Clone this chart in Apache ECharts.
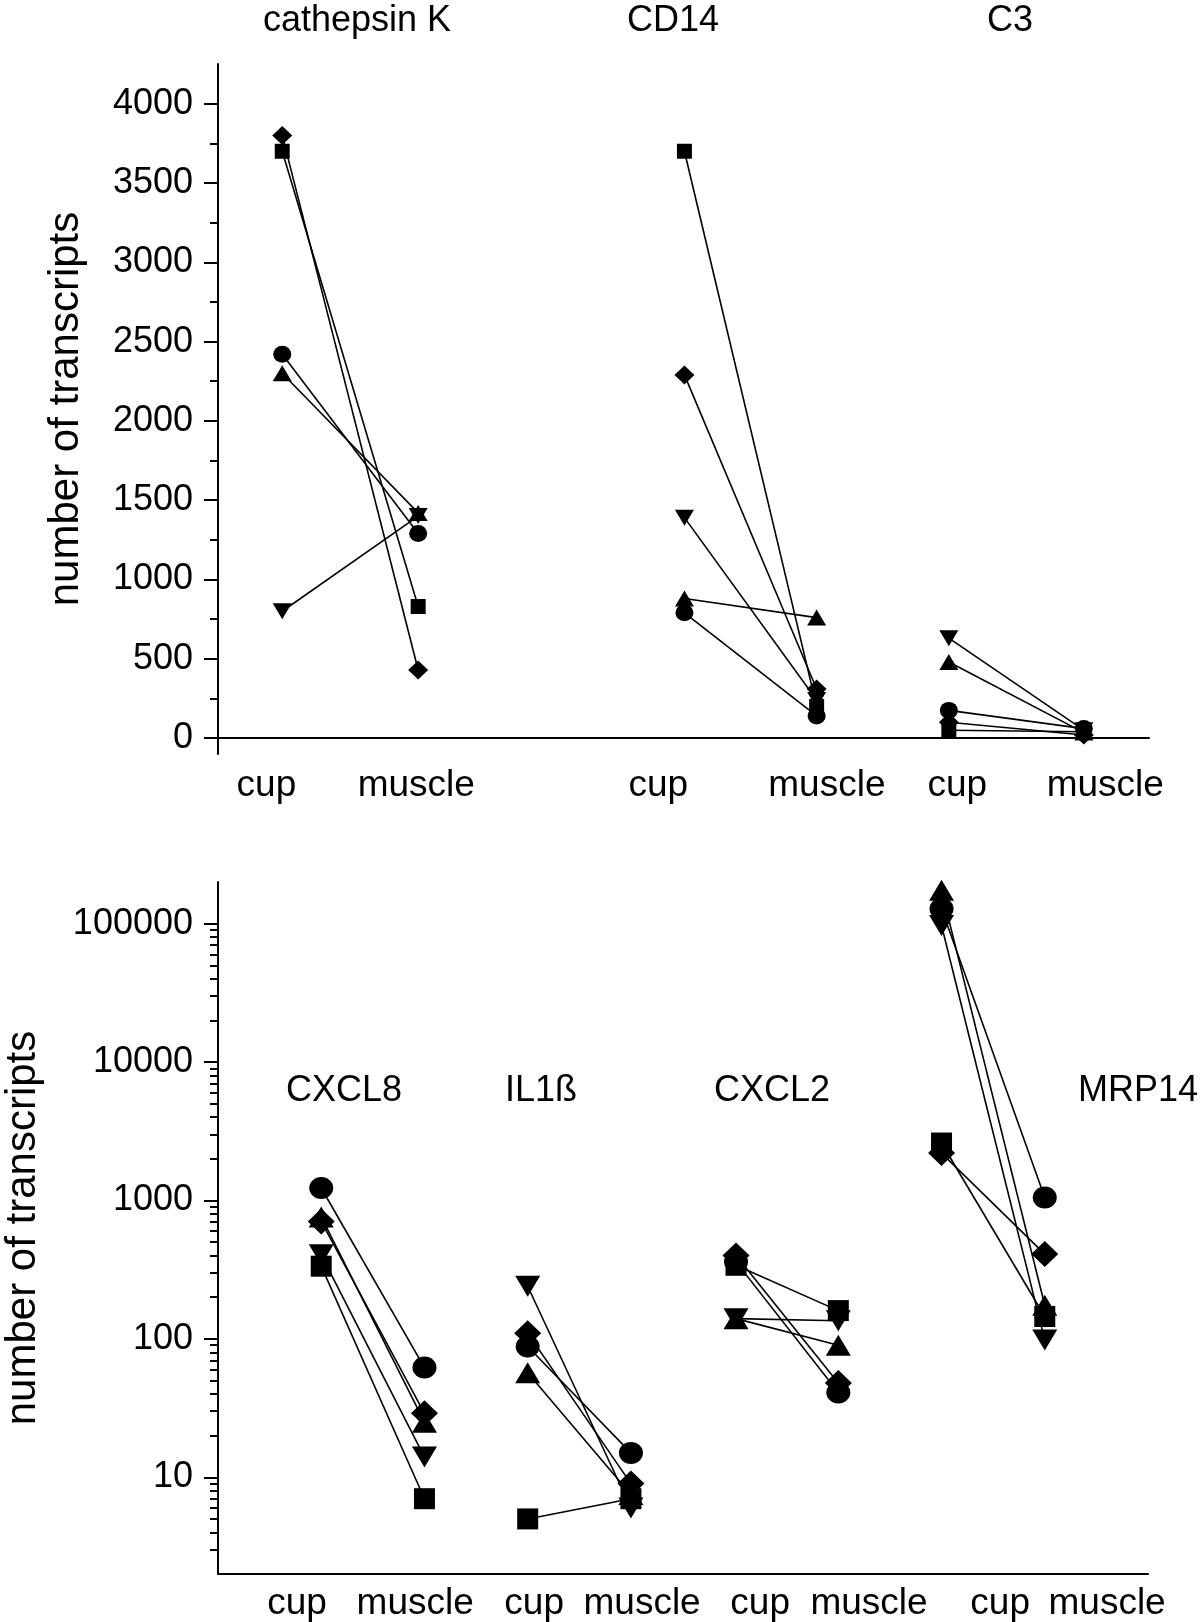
<!DOCTYPE html>
<html><head><meta charset="utf-8">
<script src="https://cdn.jsdelivr.net/npm/echarts@6/dist/echarts.min.js"></script>
<style>html,body{margin:0;padding:0;background:#fff}#c{width:1200px;height:1622px}</style>
</head><body><div id="c"></div>
<script>
// Donor marker order: circle, square, triangle up, triangle down, diamond
const donorSymbols = ['circle', 'rect', 'triangle', 'triangle', 'diamond'];
const donorRotate = [0, 0, 0, 180, 0];

// ---------- Top panel (linear scale) ----------
const topGenes = ['cathepsin K', 'CD14', 'C3'];
const cathepsinK_cup    = [2420, 3700, 2300, 800, 3800];
const cathepsinK_muscle = [1290, 830, 1420, 1400, 430];
const CD14_cup          = [790, 3700, 880, 1390, 2290];
const CD14_muscle       = [140, 200, 760, 240, 310];
const C3_cup            = [175, 50, 480, 630, 100];
const C3_muscle         = [60, 40, 35, 50, 20];
const topCup    = [cathepsinK_cup, CD14_cup, C3_cup];
const topMuscle = [cathepsinK_muscle, CD14_muscle, C3_muscle];
const topCupX    = [0.69, 5.01, 7.85];
const topMuscleX = [2.15, 6.43, 9.30];
const topLabelPos  = [0.52, 2.13, 4.73, 6.54, 7.94, 9.53];
const topLabelText = ['cup', 'muscle', 'cup', 'muscle', 'cup', 'muscle'];
const topMajorTicks = [0, 500, 1000, 1500, 2000, 2500, 3000, 3500, 4000];
const topMinorTicks = [250, 750, 1250, 1750, 2250, 2750, 3250, 3750];

// ---------- Bottom panel (log scale) ----------
const bottomGenes = ['CXCL8', 'IL1ß', 'CXCL2', 'MRP14'];
const CXCL8_cup    = [1230, 335, 760, 405, 705];
const CXCL8_muscle = [62, 7, 25, 14, 29];
const IL1b_cup     = [88, 5, 57, 240, 110];
const IL1b_muscle  = [15, 7, 7.5, 6, 9];
const CXCL2_cup    = [360, 340, 140, 140, 400];
const CXCL2_muscle = [41, 160, 90, 135, 48];
const MRP14_cup    = [128000, 2600, 174000, 97000, 2200];
const MRP14_muscle = [1050, 145, 175, 98, 410];
const botCup    = [CXCL8_cup, IL1b_cup, CXCL2_cup, MRP14_cup];
const botMuscle = [CXCL8_muscle, IL1b_muscle, CXCL2_muscle, MRP14_muscle];
const botCupX    = [1.11, 3.33, 5.57, 7.78];
const botMuscleX = [2.22, 4.44, 6.67, 8.89];
const botLabelPos  = [0.85, 2.12, 3.40, 4.56, 5.83, 7.00, 8.41, 9.56];
const botLabelText = ['cup', 'muscle', 'cup', 'muscle', 'cup', 'muscle', 'cup', 'muscle'];
const botMajorTicks = [10, 100, 1000, 10000, 100000];
const botMinorTicks = [3, 4, 5, 6, 7, 8, 9,
  20, 30, 40, 50, 60, 70, 80, 90,
  200, 300, 400, 500, 600, 700, 800, 900,
  2000, 3000, 4000, 5000, 6000, 7000, 8000, 9000,
  20000, 30000, 40000, 50000, 60000, 70000, 80000, 90000];

const FONT = 'Liberation Sans, Arial, Helvetica, sans-serif';
const topSizes = { circle: [18, 17], rect: [15, 15], triangle: [19, 16], diamond: [20, 19] };
const botSizes = { circle: [24, 22], rect: [21, 21], triangle: [25, 21], diamond: [27, 26] };

const series = [];
function addPanel(cups, muscles, cupX, muscleX, xi, yi, sizes) {
  cups.forEach((cupVals, g) => {
    cupVals.forEach((v, d) => {
      const sym = donorSymbols[d];
      series.push({
        type: 'line', xAxisIndex: xi, yAxisIndex: yi,
        data: [[cupX[g], v], [muscleX[g], muscles[g][d]]],
        symbol: sym, symbolSize: sizes[sym], symbolRotate: donorRotate[d],
        showSymbol: true, silent: true,
        lineStyle: { color: '#000', width: 1.6 },
        itemStyle: { color: '#000', borderWidth: 0 },
        emphasis: { disabled: true }
      });
    });
  });
}
addPanel(topCup, topMuscle, topCupX, topMuscleX, 0, 0, topSizes);
addPanel(botCup, botMuscle, botCupX, botMuscleX, 1, 2, botSizes);

function labelFor(pos, txt) {
  return v => { const i = pos.findIndex(p => Math.abs(p - v) < 1e-6); return i >= 0 ? txt[i] : ''; };
}
const axisLineStyle = { show: true, lineStyle: { color: '#000', width: 2 } };

const option = {
  animation: false,
  backgroundColor: '#fff',
  grid: [
    { left: 218, top: 64, width: 931, height: 690, outerBoundsMode: 'none', containLabel: false },
    { left: 218, top: 882, width: 930, height: 692, outerBoundsMode: 'none', containLabel: false }
  ],
  xAxis: [
    { gridIndex: 0, type: 'value', min: 0, max: 10, axisLine: axisLineStyle,
      axisTick: { show: false }, splitLine: { show: false },
      axisLabel: { customValues: topLabelPos, formatter: labelFor(topLabelPos, topLabelText),
        color: '#000', fontSize: 37, fontFamily: FONT, margin: 13 } },
    { gridIndex: 1, type: 'value', min: 0, max: 10, axisLine: axisLineStyle,
      axisTick: { show: false }, splitLine: { show: false },
      axisLabel: { customValues: botLabelPos, formatter: labelFor(botLabelPos, botLabelText),
        color: '#000', fontSize: 37, fontFamily: FONT, margin: 11 } }
  ],
  yAxis: [
    { gridIndex: 0, type: 'value', position: 'left', min: -100, max: 4250,
      axisLine: axisLineStyle, splitLine: { show: false },
      axisTick: { show: true, customValues: topMajorTicks, length: 14, lineStyle: { color: '#000', width: 2 } },
      axisLabel: { customValues: topMajorTicks, formatter: v => String(Math.round(v)),
        color: '#000', fontSize: 36, fontFamily: FONT, margin: 25 } },
    { gridIndex: 0, type: 'value', position: 'left', min: -100, max: 4250,
      axisLine: { show: false }, splitLine: { show: false },
      axisTick: { show: true, customValues: topMinorTicks, length: 8, lineStyle: { color: '#000', width: 2 } },
      axisLabel: { show: false } },
    { gridIndex: 1, type: 'log', logBase: 10, position: 'left', min: 2, max: 200000,
      axisLine: axisLineStyle, splitLine: { show: false },
      axisTick: { show: true, customValues: botMajorTicks, length: 14, lineStyle: { color: '#000', width: 2 } },
      axisLabel: { customValues: botMajorTicks, formatter: v => String(Math.round(v)),
        color: '#000', fontSize: 36, fontFamily: FONT, margin: 25 } },
    { gridIndex: 1, type: 'log', logBase: 10, position: 'left', min: 2, max: 200000,
      axisLine: { show: false }, splitLine: { show: false },
      axisTick: { show: true, customValues: botMinorTicks, length: 8, lineStyle: { color: '#000', width: 2 } },
      axisLabel: { show: false } }
  ],
  graphic: [
    { type: 'text', x: 357, y: 21, style: { text: topGenes[0], font: '36px ' + FONT, fill: '#000', textAlign: 'center', textVerticalAlign: 'middle' } },
    { type: 'text', x: 673, y: 21, style: { text: topGenes[1], font: '36px ' + FONT, fill: '#000', textAlign: 'center', textVerticalAlign: 'middle' } },
    { type: 'text', x: 1010, y: 21, style: { text: topGenes[2], font: '36px ' + FONT, fill: '#000', textAlign: 'center', textVerticalAlign: 'middle' } },
    { type: 'text', x: 344, y: 1091, style: { text: bottomGenes[0], font: '36px ' + FONT, fill: '#000', textAlign: 'center', textVerticalAlign: 'middle' } },
    { type: 'text', x: 541, y: 1091, style: { text: bottomGenes[1], font: '36px ' + FONT, fill: '#000', textAlign: 'center', textVerticalAlign: 'middle' } },
    { type: 'text', x: 772, y: 1091, style: { text: bottomGenes[2], font: '36px ' + FONT, fill: '#000', textAlign: 'center', textVerticalAlign: 'middle' } },
    { type: 'text', x: 1138, y: 1091, style: { text: bottomGenes[3], font: '36px ' + FONT, fill: '#000', textAlign: 'center', textVerticalAlign: 'middle' } },
    { type: 'text', x: 66, y: 409, rotation: Math.PI / 2, style: { text: 'number of transcripts', font: '42px ' + FONT, fill: '#000', textAlign: 'center', textVerticalAlign: 'middle' } },
    { type: 'text', x: 23, y: 1228, rotation: Math.PI / 2, style: { text: 'number of transcripts', font: '42px ' + FONT, fill: '#000', textAlign: 'center', textVerticalAlign: 'middle' } }
  ],
  series: series
};
const chart = echarts.init(document.getElementById('c'), null, { renderer: 'canvas' });
chart.setOption(option);
</script>
</body></html>
